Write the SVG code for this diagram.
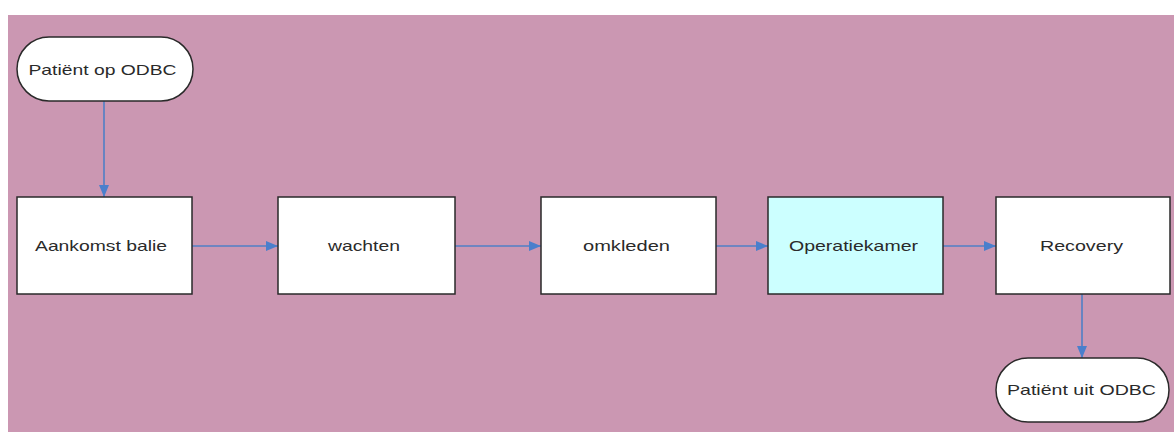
<svg xmlns="http://www.w3.org/2000/svg" width="1174" height="432" viewBox="0 0 1174 432">
<style>
.bg{fill:#cb97b2}
.box{fill:#ffffff;stroke:#2a2a2a;stroke-width:1.5}
.hl{fill:#ccffff}
.lbl{font-family:"Liberation Sans",Arial,sans-serif;font-size:15px;fill:#2a2a2a;text-anchor:middle;dominant-baseline:central}
.con{stroke:#4f7fc6;stroke-width:1.6;fill:none;marker-end:url(#ah)}
</style>
<defs>
<marker id="ah" viewBox="0 0 12 10" refX="12" refY="5" markerWidth="12" markerHeight="10" markerUnits="userSpaceOnUse" orient="auto">
<path d="M0,0 L12,5 L0,10 z" fill="#4a7fcc"/>
</marker>
</defs>
<rect x="0" y="0" width="1174" height="432" fill="#ffffff"/>
<rect class="bg" x="8" y="15" width="1166" height="417"/>
<g id="connectors">
<path class="con" d="M104,101 L104,197"/>
<path class="con" d="M192,246 L278,246"/>
<path class="con" d="M455,246 L541,246"/>
<path class="con" d="M716,246 L768,246"/>
<path class="con" d="M943,246 L996,246"/>
<path class="con" d="M1082,294 L1082,358"/>
</g>
<g id="start">
<rect class="box" x="17" y="37" width="176" height="64" rx="32" ry="32"/>
<text class="lbl" x="102.5" y="69" textLength="148" lengthAdjust="spacingAndGlyphs">Patiënt op ODBC</text>
</g>
<g id="aankomst">
<rect class="box" x="17" y="197" width="175" height="97"/>
<text class="lbl" x="101" y="245" textLength="132" lengthAdjust="spacingAndGlyphs">Aankomst balie</text>
</g>
<g id="wachten">
<rect class="box" x="278" y="197" width="177" height="97"/>
<text class="lbl" x="364" y="245" textLength="72" lengthAdjust="spacingAndGlyphs">wachten</text>
</g>
<g id="omkleden">
<rect class="box" x="541" y="197" width="175" height="97"/>
<text class="lbl" x="626.5" y="245" textLength="87" lengthAdjust="spacingAndGlyphs">omkleden</text>
</g>
<g id="operatiekamer">
<rect class="box hl" x="768" y="197" width="175" height="97"/>
<text class="lbl" x="853.5" y="245" textLength="129" lengthAdjust="spacingAndGlyphs">Operatiekamer</text>
</g>
<g id="recovery">
<rect class="box" x="996" y="197" width="174" height="97"/>
<text class="lbl" x="1081.5" y="245" textLength="83" lengthAdjust="spacingAndGlyphs">Recovery</text>
</g>
<g id="end">
<rect class="box" x="996" y="358" width="173" height="64" rx="32" ry="32"/>
<text class="lbl" x="1081.5" y="389" textLength="149" lengthAdjust="spacingAndGlyphs">Patiënt uit ODBC</text>
</g>
</svg>
